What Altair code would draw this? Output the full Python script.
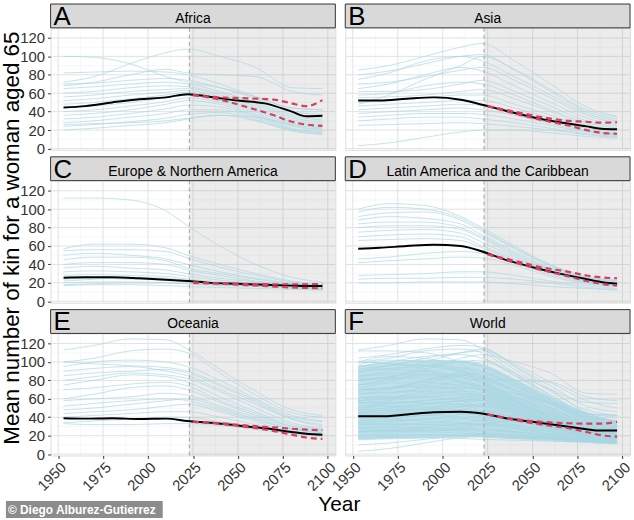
import altair as alt
import pandas as pd

# ---------------- data ----------------
YEARS = [1953, 1970, 1990, 2010, 2022, 2040, 2060, 2080, 2097]
MEAN_YEARS = [1953, 1965, 1980, 1995, 2010, 2022, 2035, 2050, 2065, 2080, 2088, 2097]
PROJ_YEARS = [2025, 2040, 2055, 2070, 2080, 2088, 2097]

PANELS = ["Africa", "Asia", "Europe & Northern America",
          "Latin America and the Caribbean", "Oceania", "World"]
LETTERS = ["A", "B", "C", "D", "E", "F"]

X_TICKS = [1950, 1975, 2000, 2025, 2050, 2075, 2100]
X_MINOR = [1962.5, 1987.5, 2012.5, 2037.5, 2062.5, 2087.5]
Y_TICKS = [0, 20, 40, 60, 80, 100, 120]
Y_MINOR = [10, 30, 50, 70, 90, 110, 130]
PROJ_START = 2023

AFRICA_LINES = [
    [82, 83, 84, 83, 80, 70, 56, 44, 42],
    [72, 78, 92, 104, 108, 100, 88, 66, 65],
    [100, 99, 92, 78, 72, 66, 56, 44, 42],
    [68, 72, 80, 86, 82, 80, 78, 62, 58],
    [70, 71, 74, 76, 74, 66, 54, 40, 37],
    [65, 67, 70, 72, 70, 62, 50, 37, 33],
    [60, 62, 66, 68, 67, 60, 48, 35, 31],
    [56, 58, 62, 64, 65, 58, 46, 33, 29],
    [52, 54, 58, 61, 63, 56, 44, 31, 27],
    [48, 50, 54, 58, 61, 54, 42, 29, 25],
    [44, 46, 50, 55, 58, 52, 40, 27, 23],
    [40, 42, 46, 51, 55, 50, 38, 25, 21],
    [36, 38, 42, 48, 52, 48, 36, 24, 20],
    [32, 34, 38, 43, 47, 45, 35, 22, 18],
    [28, 30, 34, 38, 42, 42, 33, 21, 17],
    [24, 26, 29, 33, 37, 39, 31, 20, 16],
    [20, 22, 25, 28, 32, 36, 30, 19, 15],
    [26, 27, 28, 30, 33, 36, 34, 26, 22],
]
AFRICA_MEAN = [44.5, 46, 50, 53.5, 55.5, 59, 56, 52, 49, 40, 35, 35.5]
AFRICA_UPPER = [58, 55.5, 54.5, 53, 49, 46, 52.5]
AFRICA_LOWER = [58, 53, 45, 36, 29, 26, 24.5]

ASIA_LINES = [
    [85, 90, 100, 110, 114, 95, 70, 45, 35],
    [80, 84, 92, 100, 102, 85, 62, 40, 32],
    [75, 82, 95, 100, 95, 78, 58, 38, 30],
    [70, 72, 78, 85, 88, 74, 55, 36, 28],
    [65, 70, 80, 88, 84, 68, 50, 33, 26],
    [62, 62, 64, 70, 74, 62, 46, 30, 24],
    [58, 60, 68, 72, 70, 58, 42, 28, 22],
    [55, 56, 58, 62, 64, 54, 40, 26, 20],
    [50, 52, 55, 58, 58, 48, 36, 24, 19],
    [46, 48, 50, 52, 52, 44, 33, 22, 17],
    [42, 44, 46, 48, 47, 40, 30, 20, 16],
    [38, 40, 42, 44, 42, 36, 27, 19, 15],
    [34, 36, 38, 38, 37, 32, 25, 18, 14],
    [30, 32, 34, 34, 32, 28, 22, 16, 13],
    [25, 26, 27, 28, 27, 24, 20, 15, 12],
    [3, 6, 12, 18, 20, 20, 17, 13, 11],
    [48, 58, 75, 90, 100, 86, 64, 42, 34],
]
ASIA_MEAN = [52, 52, 54, 55.5, 53, 47.5, 41, 34, 28.5, 24, 21.5, 21]
ASIA_UPPER = [46, 40, 34, 30, 29, 28, 28.5]
ASIA_LOWER = [46, 38, 31, 25, 20, 17, 16]

EUROPE_LINES = [
    [112, 112, 110, 98, 82, 60, 40, 26, 21],
    [57, 62, 62, 58, 50, 40, 30, 22, 18],
    [55, 56, 56, 54, 47, 37, 28, 21, 17],
    [50, 52, 50, 46, 40, 32, 25, 20, 16],
    [45, 48, 48, 44, 36, 30, 24, 19, 16],
    [40, 42, 42, 40, 34, 28, 22, 18, 15],
    [36, 38, 36, 34, 30, 25, 21, 17, 15],
    [32, 33, 32, 30, 27, 23, 19, 16, 14],
    [28, 29, 28, 27, 24, 21, 18, 16, 14],
    [24, 25, 24, 23, 21, 19, 17, 15, 13],
    [20, 21, 21, 20, 19, 17, 16, 14, 13],
    [17, 18, 18, 17, 16, 15, 14, 13, 12],
    [22, 24, 26, 25, 22, 19, 17, 15, 14],
    [18, 19, 20, 20, 19, 18, 17, 16, 15],
]
EUROPE_MEAN = [25.5, 26, 26, 25, 23.5, 22, 20, 19, 18, 17, 16.5, 16.5]
EUROPE_UPPER = [20.5, 19.5, 19, 18.5, 18.5, 18.5, 19]
EUROPE_LOWER = [20, 19, 17.5, 16, 15, 14.5, 14]

LATAM_LINES = [
    [100, 106, 104, 92, 80, 60, 40, 27, 23],
    [97, 102, 100, 90, 78, 58, 39, 26, 22],
    [92, 96, 97, 88, 76, 57, 38, 25, 22],
    [88, 92, 90, 84, 72, 54, 36, 25, 21],
    [84, 86, 86, 80, 70, 52, 35, 24, 20],
    [80, 82, 82, 78, 68, 50, 34, 23, 20],
    [75, 77, 78, 74, 64, 48, 33, 22, 19],
    [70, 72, 73, 70, 60, 46, 32, 22, 18],
    [66, 67, 68, 66, 58, 44, 31, 21, 18],
    [46, 48, 52, 54, 52, 42, 29, 20, 17],
    [42, 44, 46, 48, 47, 39, 27, 19, 16],
    [28, 29, 30, 32, 32, 28, 22, 17, 14],
    [24, 25, 25, 26, 26, 24, 20, 15, 13],
    [20, 20, 21, 21, 21, 19, 16, 14, 12],
]
LATAM_MEAN = [57, 58, 60, 61.5, 60, 54, 45, 37, 30, 24, 21, 19]
LATAM_UPPER = [51, 44, 37, 32, 28, 26, 25]
LATAM_LOWER = [51, 42, 34, 27, 22, 19, 17]

OCEANIA_LINES = [
    [113, 118, 125, 124, 114, 92, 68, 48, 42],
    [100, 104, 112, 114, 110, 88, 64, 45, 40],
    [100, 98, 96, 94, 90, 76, 58, 40, 35],
    [95, 100, 102, 100, 95, 80, 60, 42, 36],
    [90, 93, 95, 90, 85, 70, 54, 38, 32],
    [85, 88, 90, 92, 88, 74, 56, 38, 30],
    [80, 84, 88, 86, 82, 68, 50, 34, 28],
    [75, 80, 86, 84, 78, 62, 46, 32, 27],
    [70, 72, 76, 78, 74, 58, 44, 30, 26],
    [60, 65, 72, 74, 70, 56, 42, 30, 25],
    [58, 60, 62, 66, 64, 52, 40, 28, 24],
    [52, 55, 58, 60, 58, 48, 37, 27, 23],
    [48, 50, 54, 58, 60, 50, 38, 27, 23],
    [44, 46, 48, 52, 54, 46, 35, 25, 22],
    [40, 42, 44, 46, 46, 40, 32, 24, 21],
    [34, 36, 38, 40, 40, 35, 30, 23, 20],
    [33, 32, 32, 33, 33, 31, 27, 22, 19],
]
OCEANIA_MEAN = [39, 38.5, 39, 38, 38.5, 36, 34, 31, 28, 24, 22, 21]
OCEANIA_UPPER = [35, 33.5, 31, 29, 27.5, 26.5, 26]
OCEANIA_LOWER = [35, 33, 29.5, 25, 21, 18, 16.5]

WORLD_EXTRA_LINES = [
    [95, 100, 106, 108, 104, 88, 70, 56, 55],
    [90, 96, 104, 110, 112, 98, 78, 58, 50],
    [104, 108, 114, 118, 116, 96, 74, 52, 46],
    [10, 12, 16, 20, 22, 21, 18, 14, 12],
]
WORLD_BAND_HI = [96, 99, 102, 102, 98, 82, 62, 45, 36]
WORLD_BAND_LO = [15, 16, 17, 18, 18, 16, 14, 12, 11]
WORLD_MEAN = [41, 41, 43, 45.5, 46, 44, 39, 35, 31, 27, 25.5, 25.5]
WORLD_UPPER = [43, 38, 35, 33.5, 33, 33, 35]
WORLD_LOWER = [43, 37, 32, 28, 24, 20.5, 19]

# ---------------- styling ----------------
W = 287
H = 123
STRIP = 24
X_DOMAIN = [1945.8, 2104.2]
Y_DOMAIN = [-1.5, 131]
FONT = "Liberation Sans"
INK = "#333333"
BLUE = "#a9d6e3"
RED = "#dc3d5c"
TICK_FONT = 15


def one_row():
    return pd.DataFrame({"k": [0]})


def make_panel(idx, lines, mean, upper, lower, band=None, extras=()):
    col, row = idx % 2, idx // 2
    show_y = col == 0
    show_x = row == 2

    xscale = alt.Scale(domain=X_DOMAIN, nice=False, zero=False)
    yscale = alt.Scale(domain=Y_DOMAIN, nice=False, zero=False)
    if show_x:
        x_axis = alt.Axis(values=X_TICKS, labelAngle=315, labelAlign="right",
                          labelBaseline="top", labelFontSize=TICK_FONT, labelColor=INK,
                          tickColor=INK, tickSize=3, labelPadding=1, domain=False,
                          grid=False, title=None, labelOverlap=False, format="d")
    else:
        x_axis = None
    if show_y:
        y_axis = alt.Axis(values=Y_TICKS, labelFontSize=TICK_FONT, labelColor=INK,
                          tickColor=INK, tickSize=3, labelPadding=3, domain=False,
                          grid=False, title=None)
    else:
        y_axis = None
    X = alt.X("year:Q", scale=xscale, axis=x_axis)
    Y = alt.Y("value:Q", scale=yscale, axis=y_axis)

    layers = []
    # grid
    gx_major = pd.DataFrame({"year": X_TICKS})
    gx_minor = pd.DataFrame({"year": X_MINOR})
    gy_major = pd.DataFrame({"value": Y_TICKS})
    gy_minor = pd.DataFrame({"value": Y_MINOR})
    layers.append(alt.Chart(gx_minor).mark_rule(color="#f2f2f2", strokeWidth=0.6).encode(x=X))
    layers.append(alt.Chart(gy_minor).mark_rule(color="#f2f2f2", strokeWidth=0.6).encode(y=Y))
    layers.append(alt.Chart(gx_major).mark_rule(color="#e2e2e2", strokeWidth=1).encode(x=X))
    layers.append(alt.Chart(gy_major).mark_rule(color="#e2e2e2", strokeWidth=1).encode(y=Y))

    # projection shade
    shade = pd.DataFrame({"year": [PROJ_START], "year_end": [X_DOMAIN[1]]})
    layers.append(alt.Chart(shade).mark_rect(color="#808080", opacity=0.15).encode(
        x=X, x2="year_end:Q", y=alt.value(0), y2=alt.value(H)))

    # band (World)
    if band is not None:
        bdf = pd.DataFrame({"year": YEARS, "value": band[0], "hi": band[1]})
        layers.append(alt.Chart(bdf).mark_area(color="#b2dbe7", opacity=0.8,
                                               interpolate="monotone").encode(
            x=X, y=Y, y2="hi:Q"))

    # country lines
    rows = []
    for k, vals in enumerate(lines):
        for yr, v in zip(YEARS, vals):
            rows.append({"id": k, "year": yr, "value": v})
    ldf = pd.DataFrame(rows)
    layers.append(alt.Chart(ldf).mark_line(color=BLUE, opacity=0.75, strokeWidth=0.9,
                                           interpolate="monotone").encode(
        x=X, y=Y, detail="id:N"))

    # vertical dashed line
    vdf = pd.DataFrame({"year": [PROJ_START]})
    layers.append(alt.Chart(vdf).mark_rule(color="#a8a8a8", strokeDash=[4, 3],
                                           strokeWidth=1.1).encode(x=X))

    # mean line
    mdf = pd.DataFrame({"year": MEAN_YEARS, "value": mean})
    layers.append(alt.Chart(mdf).mark_line(color="black", strokeWidth=2,
                                           interpolate="monotone").encode(x=X, y=Y))

    # projection interval
    rrows = []
    for name, arr in (("upper", upper), ("lower", lower)):
        for yr, v in zip(PROJ_YEARS, arr):
            rrows.append({"bound": name, "year": yr, "value": v})
    rdf = pd.DataFrame(rrows)
    layers.append(alt.Chart(rdf).mark_line(color=RED, strokeWidth=2.2, strokeDash=[6, 4],
                                           interpolate="monotone").encode(
        x=X, y=Y, detail="bound:N"))

    # strip
    layers.append(alt.Chart(one_row()).mark_rect(fill="#d9d9d9", stroke=INK,
                                                 strokeWidth=1).encode(
        x=alt.value(0), x2=alt.value(W), y=alt.value(-STRIP), y2=alt.value(0)))
    layers.append(alt.Chart(one_row()).mark_text(text=LETTERS[idx], fontSize=26,
                                                 align="left", baseline="alphabetic",
                                                 color="black", font=FONT).encode(
        x=alt.value(3), y=alt.value(-3)))
    layers.append(alt.Chart(one_row()).mark_text(text=PANELS[idx], fontSize=14,
                                                 align="center", baseline="alphabetic",
                                                 color="black", font=FONT).encode(
        x=alt.value(W / 2), y=alt.value(-5)))

    layers.extend(extras)
    return alt.layer(*layers).properties(width=W, height=H)


ytitle = alt.Chart(one_row()).mark_text(
    text="Mean number of kin for a woman aged 65", fontSize=22.5, angle=270,
    align="center", baseline="middle", color="black", font=FONT).encode(
    x=alt.value(-39), y=alt.value(58))

credit_box = alt.Chart(one_row()).mark_rect(fill="#8c8c8c").encode(
    x=alt.value(-45), x2=alt.value(113), y=alt.value(169), y2=alt.value(186))
credit_text = alt.Chart(one_row()).mark_text(
    text="© Diego Alburez-Gutierrez", fontSize=12, fontWeight="bold",
    align="left", baseline="middle", color="white", font=FONT).encode(
    x=alt.value(-43), y=alt.value(178))
xtitle = alt.Chart(one_row()).mark_text(
    text="Year", fontSize=21, align="center", baseline="middle",
    color="black", font=FONT).encode(x=alt.value(291), y=alt.value(173))

world_lines = (AFRICA_LINES + ASIA_LINES + EUROPE_LINES + LATAM_LINES
               + OCEANIA_LINES + WORLD_EXTRA_LINES)

panels = [
    make_panel(0, AFRICA_LINES, AFRICA_MEAN, AFRICA_UPPER, AFRICA_LOWER),
    make_panel(1, ASIA_LINES, ASIA_MEAN, ASIA_UPPER, ASIA_LOWER),
    make_panel(2, EUROPE_LINES, EUROPE_MEAN, EUROPE_UPPER, EUROPE_LOWER, extras=(ytitle,)),
    make_panel(3, LATAM_LINES, LATAM_MEAN, LATAM_UPPER, LATAM_LOWER),
    make_panel(4, OCEANIA_LINES, OCEANIA_MEAN, OCEANIA_UPPER, OCEANIA_LOWER,
               extras=(credit_box, credit_text, xtitle)),
    make_panel(5, world_lines, WORLD_MEAN, WORLD_UPPER, WORLD_LOWER,
               band=(WORLD_BAND_LO, WORLD_BAND_HI)),
]

chart = alt.concat(*panels, columns=2, spacing={"row": 31, "column": 10},
                   bounds="flush").properties(
    padding={"left": 0, "top": 1, "right": 0, "bottom": 0}
).configure_view(stroke=INK, strokeWidth=1).configure(font=FONT)

chart.save("out.html", embed_options={"renderer": "svg", "actions": False})
